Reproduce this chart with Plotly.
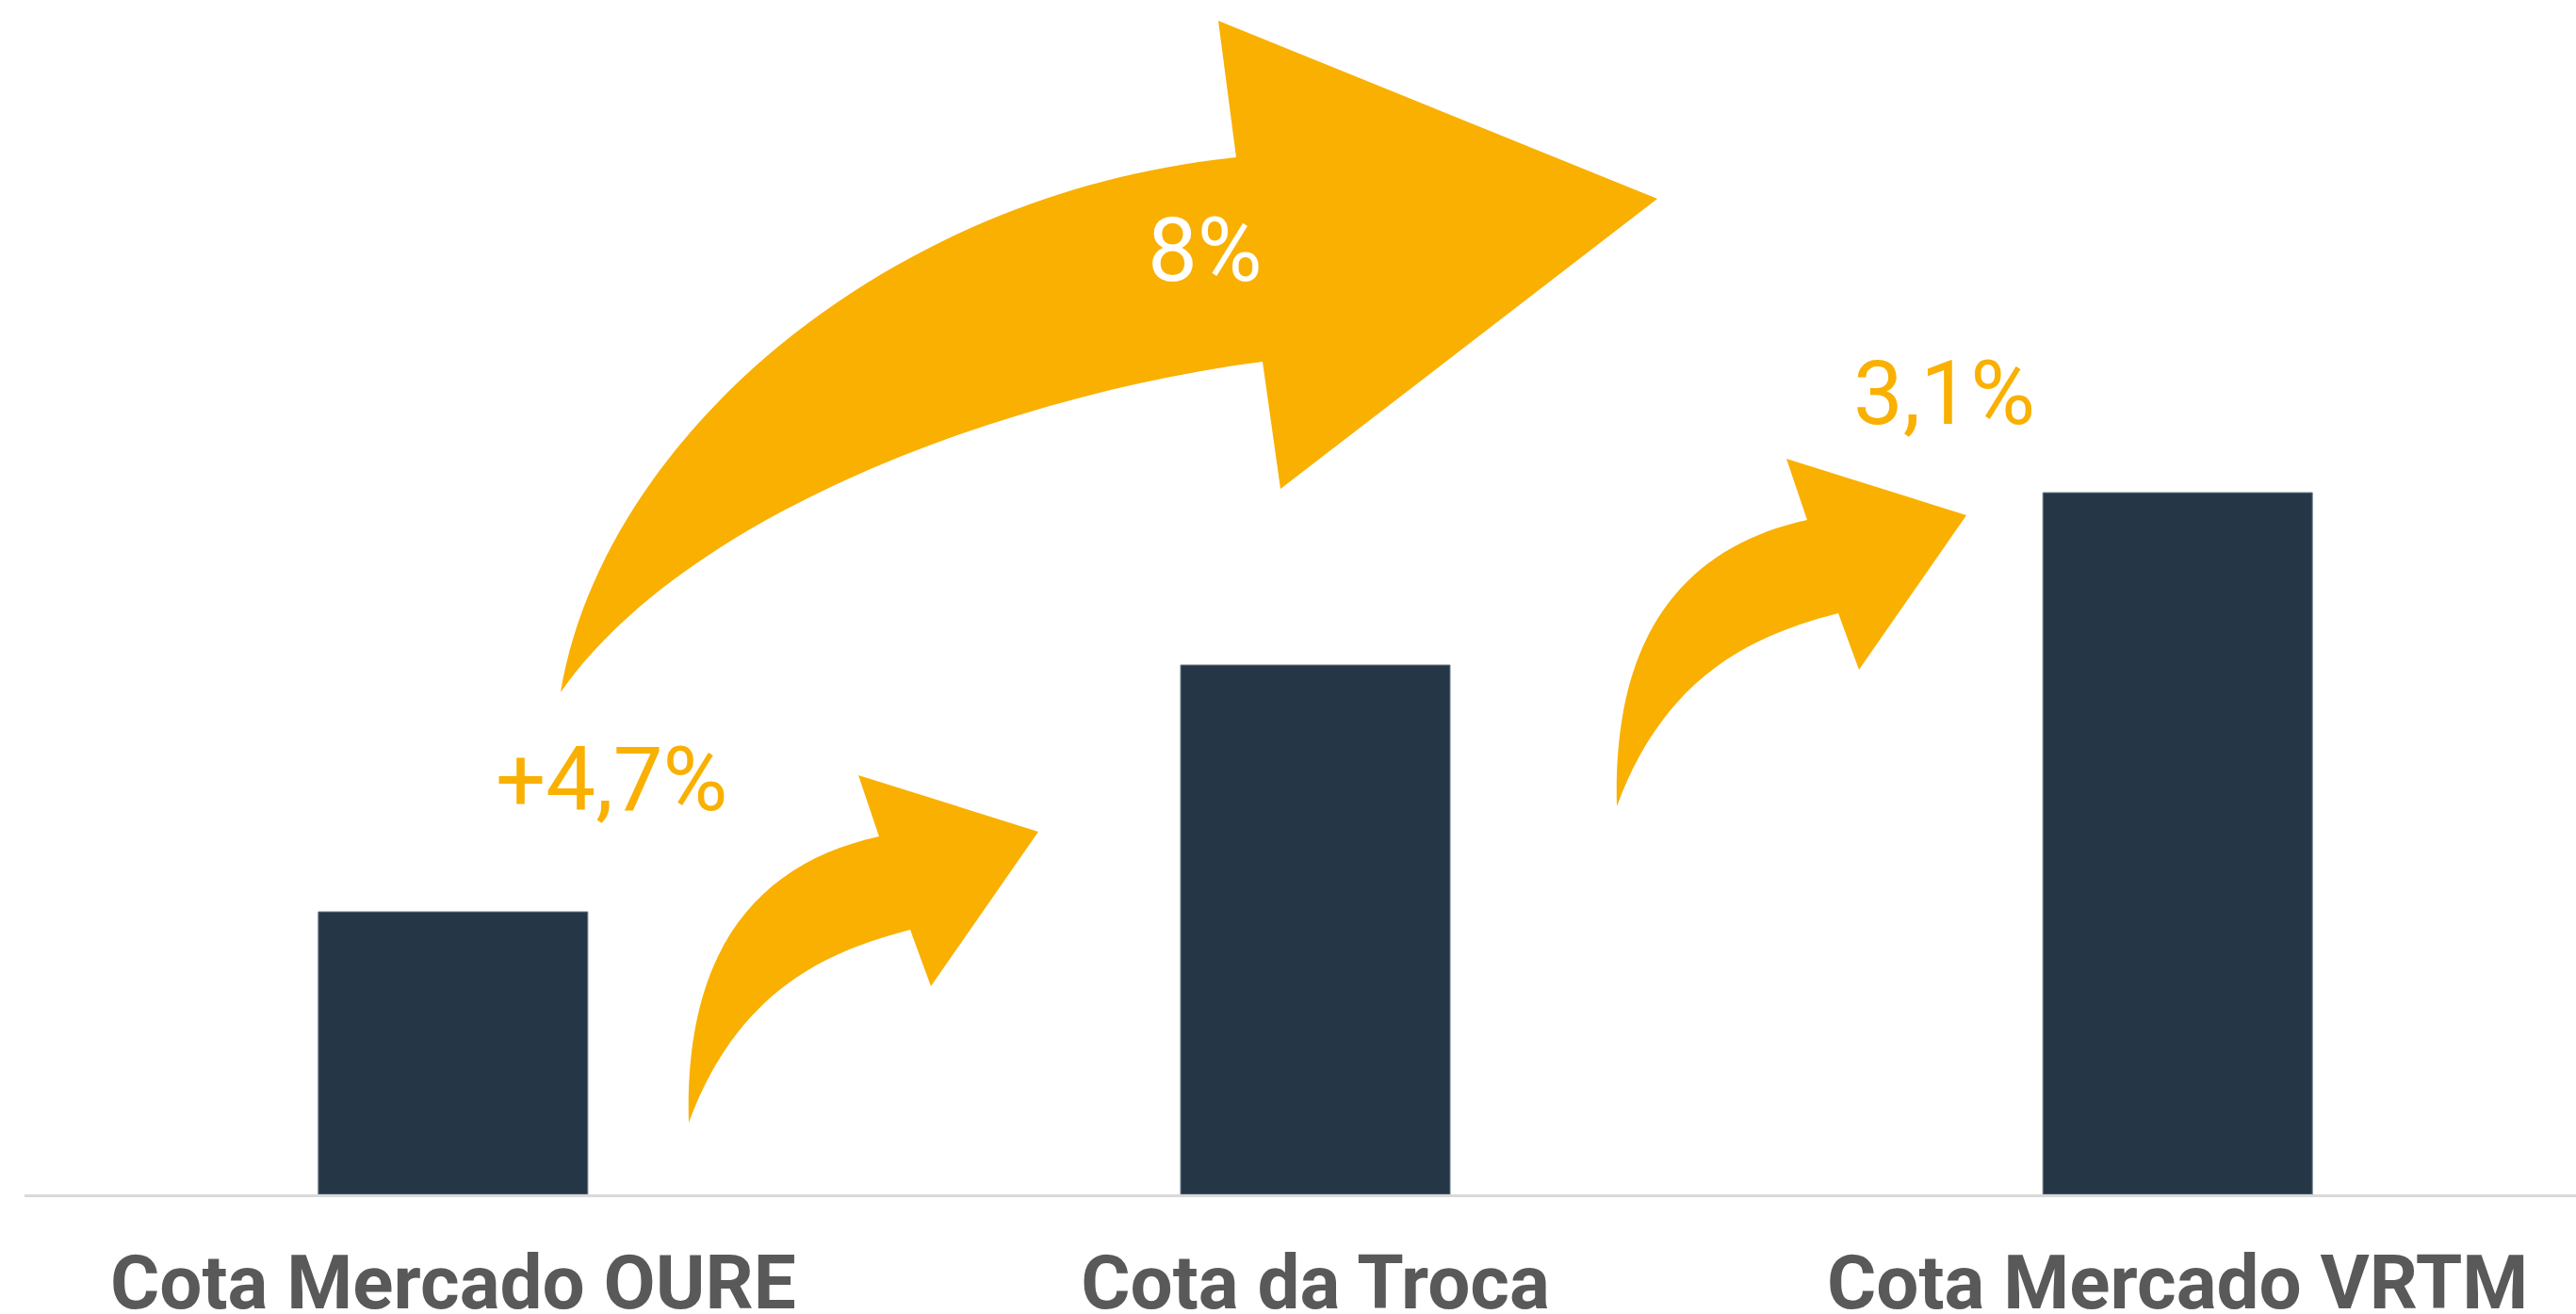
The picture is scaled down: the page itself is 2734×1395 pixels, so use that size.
import plotly.graph_objects as go

categories = ['Cota Mercado OURE', 'Cota da Troca', 'Cota Mercado VRTM']
values = [30.0, 56.2, 74.5]
change_labels = ['+4,7%', '3,1%', '8%']

W, H = 2734, 1395
L, R, T, B = 26, 0, 0, 127
PW, PH = W - L - R, H - T - B

NAVY = '#253746'
ORANGE = '#F9B000'
GREY = '#595959'


def to_paper(px, py):
    return (px - L) / PW, 1 - (py - T) / PH


def fmt(ox, oy, p):
    x, y = to_paper(ox + p[0], oy + p[1])
    return f'{x:.5f},{y:.5f}'


def arrow_path(ox, oy, shape):
    # shape: outer cubic (start, c1, c2, end), arrow head points, inner cubic back to start
    outer, head, inner = shape
    d = 'M ' + fmt(ox, oy, outer[0])
    d += ' C ' + ' '.join(fmt(ox, oy, p) for p in outer[1:])
    for p in head:
        d += ' L ' + fmt(ox, oy, p)
    d += ' C ' + ' '.join(fmt(ox, oy, p) for p in inner[1:])
    return d + ' Z'


# arrow outlines, in pixels relative to the tail point
small_arrow = (
    [(0, 0), (-5, -180), (70, -275), (202, -304)],
    [(180, -369), (371, -309), (257, -145), (235, -205)],
    [(235, -205), (160, -185), (55, -150), (0, 0)],
)
big_arrow = (
    [(0, 0), (45, -270), (345, -530), (717, -568)],
    [(698, -713), (1164, -524), (764, -216), (745, -351)],
    [(745, -351), (500, -320), (140, -200), (0, 0)],
)

fig = go.Figure()
fig.add_trace(go.Bar(x=categories, y=values, marker_color=NAVY, width=0.3125,
                     marker_line=dict(color='#6b7a88', width=1)))

for ox, oy, shape in [(731, 1192, small_arrow), (1716, 856, small_arrow), (595, 735, big_arrow)]:
    fig.add_shape(type='path', path=arrow_path(ox, oy, shape), xref='paper', yref='paper',
                  fillcolor=ORANGE, line=dict(width=0), layer='above')

label_pos = [(649, 828, ORANGE), (2063, 418, ORANGE), (1279, 266, 'white')]
for txt, (px, py, col) in zip(change_labels, label_pos):
    x, y = to_paper(px, py)
    fig.add_annotation(x=x, y=y, xref='paper', yref='paper', text=txt, showarrow=False,
                       font=dict(family='Roboto', size=94, color=col),
                       xanchor='center', yanchor='middle')

fig.update_layout(
    width=W, height=H,
    margin=dict(l=L, r=R, t=T, b=B, autoexpand=False),
    paper_bgcolor='white', plot_bgcolor='white',
    showlegend=False,
    xaxis=dict(range=[-0.497, 2.462], showline=True, linecolor='#D9D9D9', linewidth=3,
               showgrid=False, zeroline=False, ticks='', ticklabelstandoff=22, automargin=False,
               tickfont=dict(family='Roboto', size=80, color=GREY, weight='bold')),
    yaxis=dict(range=[0, PH / 10], visible=False, fixedrange=True, automargin=False),
)

fig.write_html('out.html', config={'displayModeBar': False},
               post_script="document.body.style.margin='0px';")
